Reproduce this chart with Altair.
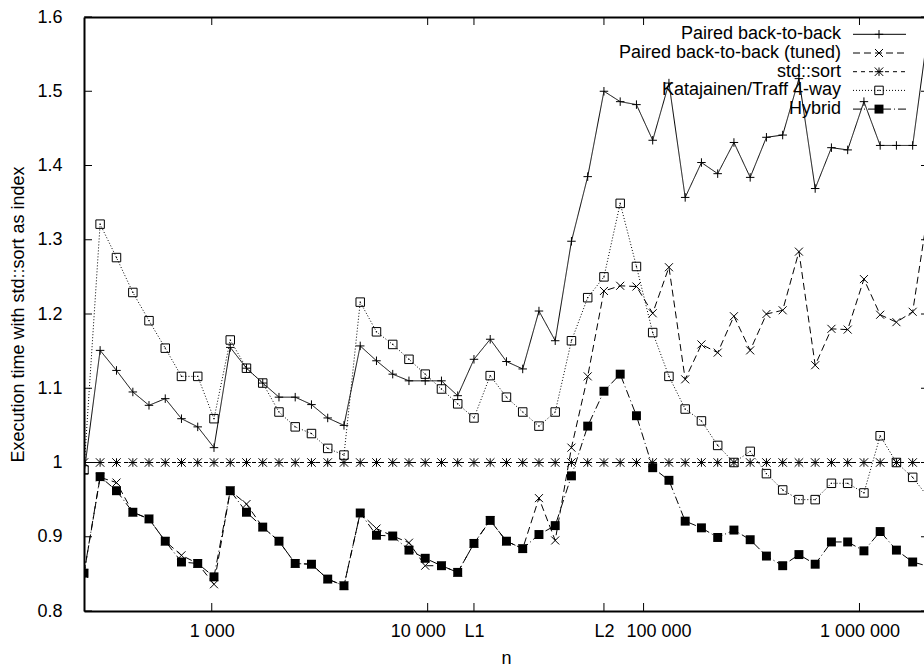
import altair as alt
import pandas as pd

# Input sizes n (quarter powers of two from 2^8 to 2^21)
n_values = [
    256, 304, 362, 431, 512, 609, 724, 861,
    1024, 1218, 1448, 1722, 2048, 2435, 2896, 3444,
    4096, 4871, 5793, 6889, 8192, 9742, 11585, 13777,
    16384, 19484, 23170, 27554, 32768, 38968, 46341, 55109,
    65536, 77936, 92682, 110218, 131072, 155872, 185364, 220436,
    262144, 311744, 370728, 440872, 524288, 623487, 741455, 881744,
    1048576, 1246974, 1482910, 1763488, 2097152,
]

# Execution time relative to std::sort
paired = [
    0.985, 1.151, 1.124, 1.095, 1.077, 1.086, 1.059, 1.048, 1.020, 1.155,
    1.127, 1.107, 1.088, 1.088, 1.078, 1.060, 1.050, 1.157, 1.137, 1.119,
    1.110, 1.110, 1.110, 1.090, 1.139, 1.166, 1.136, 1.126, 1.204, 1.164,
    1.298, 1.385, 1.500, 1.486, 1.482, 1.434, 1.511, 1.357, 1.404, 1.389,
    1.431, 1.384, 1.438, 1.441, 1.517, 1.369, 1.424, 1.421, 1.486, 1.427,
    1.427, 1.427, 1.590,
]
paired_tuned = [
    0.850, 0.980, 0.973, 0.933, 0.924, 0.894, 0.875, 0.864, 0.836, 0.962,
    0.944, 0.913, 0.894, 0.864, 0.863, 0.843, 0.834, 0.932, 0.911, 0.901,
    0.892, 0.861, 0.861, 0.852, 0.891, 0.922, 0.894, 0.884, 0.952, 0.895,
    1.020, 1.116, 1.231, 1.238, 1.237, 1.201, 1.263, 1.112, 1.159, 1.148,
    1.197, 1.151, 1.200, 1.205, 1.284, 1.131, 1.180, 1.179, 1.247, 1.199,
    1.189, 1.203, 1.346,
]
std_sort = [
    1.0, 1.0, 1.0, 1.0, 1.0, 1.0, 1.0, 1.0, 1.0, 1.0,
    1.0, 1.0, 1.0, 1.0, 1.0, 1.0, 1.0, 1.0, 1.0, 1.0,
    1.0, 1.0, 1.0, 1.0, 1.0, 1.0, 1.0, 1.0, 1.0, 1.0,
    1.0, 1.0, 1.0, 1.0, 1.0, 1.0, 1.0, 1.0, 1.0, 1.0,
    1.0, 1.0, 1.0, 1.0, 1.0, 1.0, 1.0, 1.0, 1.0, 1.0,
    1.0, 1.0, 1.0,
]
katajainen = [
    0.990, 1.321, 1.276, 1.229, 1.191, 1.154, 1.116, 1.116, 1.059, 1.165,
    1.127, 1.107, 1.068, 1.048, 1.039, 1.019, 1.010, 1.216, 1.176, 1.159,
    1.139, 1.119, 1.099, 1.079, 1.060, 1.117, 1.088, 1.068, 1.049, 1.068,
    1.164, 1.222, 1.250, 1.349, 1.264, 1.175, 1.116, 1.072, 1.056, 1.023,
    1.000, 1.015, 0.985, 0.963, 0.950, 0.950, 0.972, 0.972, 0.959, 1.036,
    1.000, 0.980, 0.952,
]
hybrid = [
    0.851, 0.981, 0.962, 0.933, 0.924, 0.894, 0.866, 0.864, 0.846, 0.962,
    0.933, 0.913, 0.894, 0.864, 0.863, 0.843, 0.834, 0.932, 0.902, 0.901,
    0.882, 0.871, 0.861, 0.852, 0.891, 0.922, 0.894, 0.884, 0.903, 0.915,
    0.982, 1.049, 1.096, 1.119, 1.063, 0.993, 0.976, 0.921, 0.912, 0.899,
    0.909, 0.896, 0.874, 0.861, 0.876, 0.863, 0.893, 0.893, 0.881, 0.907,
    0.882, 0.866, 0.860,
]

series_names = [
    "Paired back-to-back",
    "Paired back-to-back (tuned)",
    "std::sort",
    "Katajainen/Traff 4-way",
    "Hybrid",
]
series_values = [paired, paired_tuned, std_sort, katajainen, hybrid]

x_tick_values = [1000, 10000, 16384, 65536, 100000, 1000000]
x_tick_labels = ["1 000", "10 000", "L1", "L2", "100 000", "1 000 000"]
y_tick_values = [0.8, 0.9, 1.0, 1.1, 1.2, 1.3, 1.4, 1.5, 1.6]

# ---- layout / style ----
FONT = "Liberation Sans"
FS = 18
W, H = 840, 594
X_MIN, X_MAX = 256, 1.99e6
TICK = 8

PLUS = "M-1,0L1,0M0,-1L0,1"
CROSS = "M-1,-1L1,1M-1,1L1,-1"
STAR = PLUS + CROSS

styles = {
    "Paired back-to-back": dict(dash=[1, 0], shape=PLUS, size=72, filled=False, dot=False),
    "Paired back-to-back (tuned)": dict(dash=[7, 4], shape=CROSS, size=64, filled=False, dot=False),
    "std::sort": dict(dash=[4, 4], shape=STAR, size=72, filled=False, dot=False),
    "Katajainen/Traff 4-way": dict(dash=[1, 2], shape="square", size=72, filled=False, dot=True),
    "Hybrid": dict(dash=[8, 3, 1, 3], shape="square", size=80, filled=True, dot=False),
}

x_scale = alt.Scale(type="log", domain=[X_MIN, X_MAX], nice=False)
y_scale = alt.Scale(domain=[0.8, 1.6], nice=False, zero=False)

# x tick label text, and a sideways nudge for the crowded ones
label_shift = {10000: -10, 100000: 15}
label_expr = "''"
for v, lab in reversed(list(zip(x_tick_values, x_tick_labels))):
    label_expr = f"datum.value == {v} ? '{lab}' : {label_expr}"
label_offset = {
    "condition": [{"test": f"datum.value == {v}", "value": dx}
                  for v, dx in label_shift.items()],
    "value": 0,
}

bottom_axis = alt.Axis(
    orient="bottom", values=x_tick_values, labelExpr=label_expr,
    ticks=False, tickSize=0, grid=False,
    domain=True, domainColor="black", domainWidth=2,
    labelFont=FONT, labelFontSize=FS, labelColor="black", labelPadding=11,
    labelFlush=False, labelOverlap=False, labelOffset=label_offset,
    title="n", titleFont=FONT, titleFontSize=FS, titleFontWeight="normal",
    titleColor="black", titleX=422, titleY=52, titleBaseline="alphabetic",
    titleAlign="center",
)
top_axis = alt.Axis(
    orient="top", labels=False, ticks=False, tickSize=0, grid=False,
    domain=True, domainColor="black", domainWidth=2, title="",
)
left_axis = alt.Axis(
    orient="left", values=y_tick_values, format=".1~f",
    ticks=False, tickSize=0, grid=False,
    domain=True, domainColor="black", domainWidth=2,
    labelFont=FONT, labelFontSize=FS, labelColor="black", labelPadding=22,
    labelFlush=False, labelOverlap=False,
    title="Execution time with std::sort as index",
    titleFont=FONT, titleFontSize=FS, titleFontWeight="normal", titleColor="black",
    titleX=-66, titleY=H / 2, titleAngle=270, titleBaseline="middle",
    titleAlign="center",
)

xt = pd.DataFrame({"v": x_tick_values})
yt = pd.DataFrame({"v": y_tick_values})

layers = []

# border ticks pointing into the plot
layers.append(alt.Chart(xt).mark_rule(color="black", strokeWidth=1).encode(
    x=alt.X("v:Q", scale=x_scale, axis=bottom_axis),
    y=alt.value(H - TICK), y2=alt.value(H)))
layers.append(alt.Chart(xt).mark_rule(color="black", strokeWidth=1).encode(
    x=alt.X("v:Q", scale=x_scale, axis=top_axis),
    y=alt.value(0), y2=alt.value(TICK)))
layers.append(alt.Chart(yt).mark_rule(color="black", strokeWidth=1).encode(
    y=alt.Y("v:Q", scale=y_scale, axis=left_axis),
    x=alt.value(0), x2=alt.value(TICK)))
layers.append(alt.Chart(yt).mark_rule(color="black", strokeWidth=1).encode(
    y=alt.Y("v:Q", scale=y_scale, axis=None),
    x=alt.value(W - 3), x2=alt.value(W)))

# data series
for name, vals in zip(series_names, series_values):
    st = styles[name]
    df = pd.DataFrame({"n": n_values, "value": vals})
    base = alt.Chart(df).encode(
        x=alt.X("n:Q", scale=x_scale, axis=None),
        y=alt.Y("value:Q", scale=y_scale, axis=None),
    )
    layers.append(base.mark_line(color="black", strokeWidth=1,
                                 strokeDash=st["dash"], clip=True))
    if st["filled"]:
        layers.append(base.mark_point(shape=st["shape"], size=st["size"], filled=True,
                                      color="black", opacity=1, clip=True))
    else:
        layers.append(base.mark_point(shape=st["shape"], size=st["size"], filled=False,
                                      color="black", strokeWidth=1, opacity=1, clip=True))
    if st["dot"]:
        layers.append(base.mark_point(shape="square", size=1.5, filled=True,
                                      color="black", opacity=1, clip=True))

# key in the top right corner
KEY_TEXT_X, KEY_LINE_X0, KEY_LINE_X1, KEY_SYM_X = 757, 769, 822, 795
KEY_Y0, KEY_DY = 17.3, 18.7
for i, name in enumerate(series_names):
    st = styles[name]
    ky = KEY_Y0 + i * KEY_DY
    kdf = pd.DataFrame({"label": [name]})
    kb = alt.Chart(kdf)
    layers.append(kb.mark_text(align="right", baseline="middle", font=FONT,
                               fontSize=FS, color="black").encode(
        x=alt.value(KEY_TEXT_X), y=alt.value(ky), text="label:N"))
    layers.append(kb.mark_rule(color="black", strokeWidth=1, strokeDash=st["dash"]).encode(
        x=alt.value(KEY_LINE_X0), x2=alt.value(KEY_LINE_X1), y=alt.value(ky)))
    if st["filled"]:
        layers.append(kb.mark_point(shape=st["shape"], size=st["size"], filled=True,
                                    color="black", opacity=1).encode(
            x=alt.value(KEY_SYM_X), y=alt.value(ky)))
    else:
        layers.append(kb.mark_point(shape=st["shape"], size=st["size"], filled=False,
                                    color="black", strokeWidth=1, opacity=1).encode(
            x=alt.value(KEY_SYM_X), y=alt.value(ky)))
    if st["dot"]:
        layers.append(kb.mark_point(shape="square", size=1.5, filled=True,
                                    color="black", opacity=1).encode(
            x=alt.value(KEY_SYM_X), y=alt.value(ky)))

chart = alt.layer(*layers).resolve_axis(
    x="independent", y="independent"
).properties(
    width=W, height=H,
    autosize=alt.AutoSizeParams(type="none"),
    padding={"left": 84, "top": 17, "right": 0, "bottom": 55},
    background="white",
).configure_view(stroke="transparent")

chart.save("out.html", embed_options={"renderer": "svg", "actions": False})
